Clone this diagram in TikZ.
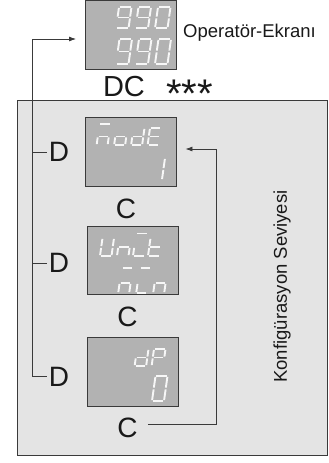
\documentclass[tikz,border=0pt]{standalone}
\usepackage{fontspec}
\setmainfont{Liberation Sans}
\usetikzlibrary{arrows.meta,positioning}
\definecolor{panelgray}{HTML}{E4E4E4}
\definecolor{dispgray}{HTML}{B2B2B2}
\definecolor{linegray}{HTML}{3A3A3A}
\tikzset{
  disp/.style={draw=linegray, fill=dispgray, line width=0.9pt, minimum width=91pt, minimum height=69pt, inner sep=0pt},
  segline/.style={draw=white!97!black, line width=1.9pt, shorten <=0.9pt, shorten >=0.9pt},
  keylbl/.style={font=\fontsize{28}{30}\selectfont, inner sep=2pt},
  flow/.style={draw=linegray, line width=0.8pt},
  tip/.style={-{Latex[length=7pt,width=5pt]}}
}
\newcommand{\segpart}[1]{%
  \if a#1\draw[segline] (0,0)--(1,0);\fi
  \if b#1\draw[segline] (1,0)--(1,1);\fi
  \if c#1\draw[segline] (1,1)--(1,2);\fi
  \if d#1\draw[segline] (0,2)--(1,2);\fi
  \if e#1\draw[segline] (0,1)--(0,2);\fi
  \if f#1\draw[segline] (0,0)--(0,1);\fi
  \if g#1\draw[segline] (0,1)--(1,1);\fi
  \if o#1\draw[segline] (0,-0.5)--(1,-0.5);\fi}
\newcommand{\segchar}[5]{%
  \begin{scope}[shift={(#1,#2)}, xslant=0.14, x=#3pt, y=-#4pt]
    \foreach \s in {#5}{\segpart{\s}}
  \end{scope}}

\begin{document}
\begin{tikzpicture}[x=1pt,y=-1pt,text=black!90]
   \useasboundingbox (0,0) rectangle (329,463);
   \draw[fill=panelgray, draw=linegray, line width=0.9pt] (17,100) rectangle (327,455);

   \node [disp] (op)   at (131,35)    {};
   \node [disp] (mode) at (130.5,151.5) {};
   \node [disp, minimum height=68pt] (unit) at (132.5,260) {};
   \node [disp] (dp)   at (132.5,371.5) {};

   \segchar{119}{7}{12.5}{10.5}{a,b,c,d,f,g}
   \segchar{138.5}{7}{12.5}{10.5}{a,b,c,d,f,g}
   \segchar{158}{7}{12.5}{10.5}{a,b,c,d,e,f}
   \segchar{119.5}{39}{12.5}{12.5}{a,b,c,d,f,g}
   \segchar{139}{39}{12.5}{12.5}{a,b,c,d,f,g}
   \segchar{158.5}{39}{12.5}{12.5}{a,b,c,d,e,f}

   \segchar{99}{128}{11}{8.5}{c,e,g,o}
   \segchar{116.5}{128}{11}{8.5}{c,d,e,g}
   \segchar{133.5}{128}{11}{8.5}{b,c,d,e,g}
   \segchar{150}{128}{11}{8.5}{a,d,e,f,g}
   \segchar{154}{158}{11}{11}{b,c}

   \segchar{102.5}{238}{11.5}{9}{b,c,d,e,f}
   \segchar{119.5}{238}{11.5}{9}{c,e,g}
   \segchar{135.5}{238}{11.5}{9}{d,e,o}
   \segchar{150.5}{238}{11.5}{9}{d,e,f,g}
   \segchar{121}{273}{11}{10}{c,e,g,o}
   \segchar{139}{273}{11}{10}{d,e,o}
   \segchar{156}{273}{11}{10}{c,e,g}

   \segchar{137}{349}{11.5}{8.5}{b,c,d,e,g}
   \segchar{154}{349}{11.5}{8.5}{a,b,e,f,g}
   \segchar{155.5}{376}{12}{12.5}{a,b,c,d,e,f}

   \node [anchor=base west, inner sep=0pt, font=\fontsize{18.5}{20}\selectfont] (optxt) at (183,37) {Operatör-Ekranı};
   \node [inner sep=0pt, font=\fontsize{29}{30}\selectfont] (dc) at (124,86.5) {DC};
   \node [anchor=north west, inner sep=0pt, font=\fontsize{40}{40}\selectfont] (stars) at (166,80) {***};

   \node [keylbl] (d1) at (59,152)   {D};
   \node [keylbl] (d2) at (59,263)   {D};
   \node [keylbl] (d3) at (59,376.5) {D};
   \node [keylbl] (c1) at (126,209)   {C};
   \node [keylbl] (c2) at (127.5,316.5) {C};
   \node [keylbl] (c3) at (127.5,427.5) {C};

   \node [rotate=90, inner sep=0pt, font=\fontsize{18.5}{20}\selectfont] (lvl) at (282,286.5) {Konfigürasyon Seviyesi};

   \coordinate (lft) at (32,39);
   \coordinate (rgt) at (216,149);
   \draw[flow, tip, shorten >=9pt] (d3.west) -| (lft) -- (lft -| op.west);
   \draw[flow] (d1.west) -- (d1.west -| lft);
   \draw[flow] (d2.west) -- (d2.west -| lft);
   \draw[flow, tip, shorten <=8pt, shorten >=9pt] ([yshift=3.5pt]c3.east) -| (rgt) -- (rgt -| mode.east);
\end{tikzpicture}
\end{document}
